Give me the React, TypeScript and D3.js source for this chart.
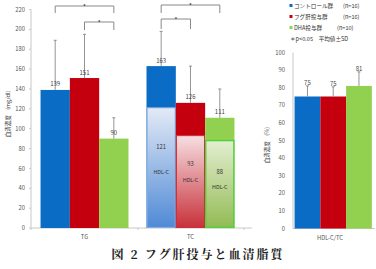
import React from 'react';
import * as d3 from 'd3';

// serum lipid values, mean ± SD
const groups = ['コントロール群', 'フグ肝投与群', 'DHA投与群'];
const groupN = ['(n=16)', '(n=16)', '(n=10)'];
const colors = ['#0a6cc4', '#c4000f', '#92d050'];

const lipidCats = ['TG', 'TC'];
const tgMean = [139, 151, 90];
const tgSd = [50, 44, 21];
const tcMean = [163, 126, 111];
const tcSd = [35, 37, 29];
const hdlMean = [121, 93, 88];

const ratioCat = ['HDL-C/TC'];
const ratioMean = [75, 75, 81];
const ratioSd = [6, 5.5, 8];

const leftTicks = d3.range(0, 221, 20);
const rightTicks = d3.range(0, 101, 10);

const font = '"Noto Sans CJK JP", "Noto Sans", sans-serif';

const hdlFill = [
  ['#e4eaf6', '#4f8ad6'],
  ['#f6dfe2', '#c8313b'],
  ['#e3eed0', '#93bb55'],
];
const hdlStroke = ['#8fb0e0', '#d0303a', '#4fd13c'];
// label offsets below the top of each HDL-C bar
const hdlValOff = [41, 30, 33];
const hdlTxtOff = [66, 46, 48];
const legendNx = [343, 343, 337];

const App = () => {
  const W = 376;
  const H = 269;

  // left panel: TG / TC
  const yL = d3.scaleLinear().domain([0, 220]).range([228, 9.5]);
  const xL = d3.scaleBand().domain(lipidCats).range([31, 244]).paddingInner(0.17).paddingOuter(0.09);
  const xLi = d3.scaleBand().domain(groups).range([0, xL.bandwidth()]);

  // right panel: HDL-C/TC
  const yR = d3.scaleLinear().domain([0, 100]).range([228.5, 52.5]);
  const xR = d3.scaleBand().domain(ratioCat).range([293, 375]).paddingInner(0).paddingOuter(0.02);
  const xRi = d3.scaleBand().domain(groups).range([0, xR.bandwidth() * 0.98]);

  const bar = (
    x0: number,
    bw: number,
    y: d3.ScaleLinear<number, number>,
    v: number,
    sd: number,
    c: string,
    key: string,
    labelAtCap = false
  ) => {
    const cx = x0 + bw / 2;
    const ly = labelAtCap ? y(v + sd) - 1 : y(v) - 3.5;
    return (
      <g key={key}>
        <rect x={x0} y={y(v)} width={bw} height={y(0) - y(v)} fill={c} />
        <line x1={cx} x2={cx} y1={y(v)} y2={y(v + sd)} stroke="#7a7a7a" strokeWidth={0.8} />
        <line x1={cx - 1.5} x2={cx + 1.5} y1={y(v + sd)} y2={y(v + sd)} stroke="#7a7a7a" strokeWidth={0.8} />
        <text x={cx} y={ly} textAnchor="middle" fontSize={6} fill="#444" fontFamily={font}>
          {v}
        </text>
      </g>
    );
  };

  const bracket = (xa: number, xb: number, yTop: number, yBot: number, key: string) => (
    <g key={key}>
      <path d={`M${xa},${yBot}V${yTop}H${xb}V${yBot}`} fill="none" stroke="#888" strokeWidth={1} />
      <text x={(xa + xb) / 2} y={yTop + 2.5} textAnchor="middle" fontSize={6} fill="#222" fontFamily={font}>
        *
      </text>
    </g>
  );

  const cxL = (cat: string, i: number) => (xL(cat) as number) + (xLi(groups[i]) as number) + xLi.bandwidth() / 2;

  return (
    <svg width={W} height={H} style={{ position: 'absolute', left: 0, top: 0, background: '#fff' }}>
      <defs>
        {hdlFill.map((f, i) => (
          <linearGradient id={`hdl${i}`} key={i} x1="0" y1="0" x2="0" y2="1">
            <stop offset="0%" stopColor={f[0]} />
            <stop offset="100%" stopColor={f[1]} />
          </linearGradient>
        ))}
      </defs>

      {/* left axis */}
      <line x1={31} x2={31} y1={yL(220)} y2={yL(0)} stroke="#c8c8c8" />
      {leftTicks.map(t => (
        <g key={t}>
          <line x1={29} x2={31} y1={yL(t)} y2={yL(t)} stroke="#c8c8c8" />
          <text x={25} y={yL(t) + 2.1} textAnchor="end" fontSize={5.8} fill="#555" fontFamily={font}>
            {t}
          </text>
        </g>
      ))}
      <line x1={31} x2={252} y1={yL(0)} y2={yL(0)} stroke="#c8c8c8" />
      {[31, 138, 244].map(x => (
        <line key={x} x1={x} x2={x} y1={yL(0)} y2={yL(0) + 2} stroke="#c8c8c8" />
      ))}
      {lipidCats.map(c => (
        <text key={c} x={(xL(c) as number) + xL.bandwidth() / 2} y={238.5} textAnchor="middle" fontSize={5.8} fill="#555" fontFamily={font}>
          {c}
        </text>
      ))}
      <text transform="translate(10,114) rotate(-90)" textAnchor="middle" fontSize={5.5} fill="#333" fontFamily={font}>
        血清濃度　(mg/dl)
      </text>

      {/* TG bars */}
      {tgMean.map((v, i) =>
        bar((xL('TG') as number) + (xLi(groups[i]) as number), xLi.bandwidth(), yL, v, tgSd[i], colors[i], `tg${i}`)
      )}

      {/* TC bars with HDL-C fraction inside */}
      {tcMean.map((v, i) => {
        const x0 = (xL('TC') as number) + (xLi(groups[i]) as number);
        const bw = xLi.bandwidth();
        const h = hdlMean[i];
        const top = yL(h);
        return (
          <g key={`tc${i}`}>
            {bar(x0, bw, yL, v, tcSd[i], colors[i], `tcb${i}`)}
            <rect
              x={x0 + 0.6}
              y={top}
              width={bw - 1.2}
              height={yL(0) - top - 0.6}
              fill={`url(#hdl${i})`}
              stroke={hdlStroke[i]}
              strokeWidth={i === 2 ? 1.4 : 1}
            />
            <text x={x0 + bw / 2} y={top + hdlValOff[i]} textAnchor="middle" fontSize={5.8} fill="#333" fontFamily={font}>
              {h}
            </text>
            <text x={x0 + bw / 2} y={top + hdlTxtOff[i]} textAnchor="middle" fontSize={5.4} fill="#333" fontFamily={font}>
              HDL-C
            </text>
          </g>
        );
      })}

      {/* significance brackets */}
      {bracket(cxL('TG', 0), cxL('TG', 2), 6, 13, 'b1')}
      {bracket(cxL('TG', 1), cxL('TG', 2), 22, 30, 'b2')}
      {bracket(cxL('TC', 0), cxL('TC', 2), 5, 13, 'b3')}
      {bracket(cxL('TC', 0), cxL('TC', 1), 19, 29, 'b4')}

      {/* right axis */}
      <line x1={293} x2={293} y1={yR(100)} y2={yR(0)} stroke="#c8c8c8" />
      {rightTicks.map(t => (
        <text key={t} x={285} y={yR(t) + 2.1} textAnchor="end" fontSize={5.8} fill="#555" fontFamily={font}>
          {t}
        </text>
      ))}
      <line x1={293} x2={375} y1={yR(0)} y2={yR(0)} stroke="#c8c8c8" />
      <text x={(xR('HDL-C/TC') as number) + xR.bandwidth() / 2 - 4} y={240} textAnchor="middle" fontSize={5.8} fill="#555" fontFamily={font}>
        HDL-C/TC
      </text>
      <text transform="translate(269,145) rotate(-90)" textAnchor="middle" fontSize={5.5} fill="#333" fontFamily={font}>
        血清濃度　(%)
      </text>
      {ratioMean.map((v, i) =>
        bar((xR('HDL-C/TC') as number) + (xRi(groups[i]) as number), xRi.bandwidth(), yR, v, ratioSd[i], colors[i], `r${i}`, true)
      )}

      {/* legend */}
      {groups.map((g, i) => (
        <g key={g}>
          <rect x={289.5} y={4 + i * 11} width={3} height={3} fill={colors[i]} />
          <text x={294} y={7.8 + i * 11} fontSize={5.6} fill="#333" fontFamily={font}>
            {g}
          </text>
          <text x={legendNx[i]} y={7.8 + i * 11} fontSize={5.6} fill="#333" fontFamily={font}>
            {groupN[i]}
          </text>
        </g>
      ))}
      <text x={290} y={40.8} fontSize={5.6} fill="#333" fontFamily={font}>
        ＊p&lt;0.05　平均値±SD
      </text>

      {/* caption */}
      <text x={198} y={259} textAnchor="middle" fontSize={12} fontWeight="bold" fill="#222" fontFamily='"Noto Serif CJK JP", "DejaVu Serif", serif' letterSpacing={2}>
        図 2  フグ肝投与と血清脂質
      </text>
    </svg>
  );
};

export default App;
